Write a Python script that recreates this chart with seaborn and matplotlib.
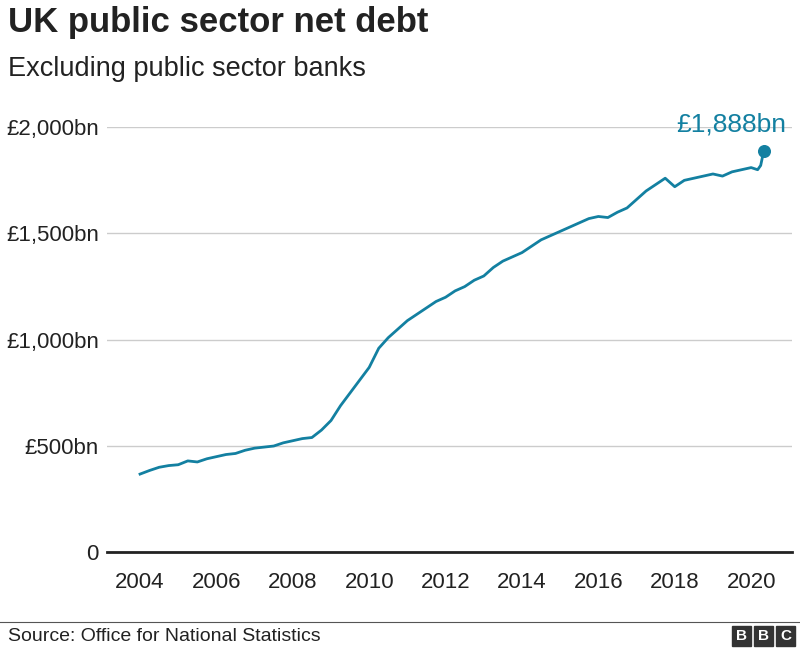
import matplotlib
matplotlib.use("Agg")
import matplotlib.pyplot as plt
import seaborn as sns
import pandas as pd
from matplotlib.patches import Rectangle

years = [2004.0,2004.25,2004.5,2004.75,2005.0,2005.25,2005.5,2005.75,2006.0,2006.25,2006.5,2006.75,
         2007.0,2007.25,2007.5,2007.75,2008.0,2008.25,2008.5,2008.75,2009.0,2009.25,2009.5,2009.75,
         2010.0,2010.25,2010.5,2010.75,2011.0,2011.25,2011.5,2011.75,2012.0,2012.25,2012.5,2012.75,
         2013.0,2013.25,2013.5,2013.75,2014.0,2014.25,2014.5,2014.75,2015.0,2015.25,2015.5,2015.75,
         2016.0,2016.25,2016.5,2016.75,2017.0,2017.25,2017.5,2017.75,2018.0,2018.25,2018.5,2018.75,
         2019.0,2019.25,2019.5,2019.75,2020.0,2020.17,2020.25,2020.33]
debt = [368,385,400,408,412,430,425,440,450,460,465,480,490,495,500,515,525,535,540,575,620,690,750,810,
        870,960,1010,1050,1090,1120,1150,1180,1200,1230,1250,1280,1300,1340,1370,1390,1410,1440,1470,1490,
        1510,1530,1550,1570,1580,1575,1600,1620,1660,1700,1730,1760,1720,1750,1760,1770,1780,1770,1790,1800,
        1810,1800,1820,1888]
yticks = [0, 500, 1000, 1500, 2000]
ylabels = ["0", "£500bn", "£1,000bn", "£1,500bn", "£2,000bn"]
xticks = [2004, 2006, 2008, 2010, 2012, 2014, 2016, 2018, 2020]

color = "#1380A1"
df = pd.DataFrame({"year": years, "debt": debt})
plt.rcParams["font.family"] = "Liberation Sans"
fig = plt.figure(figsize=(8, 6.49), dpi=100)
ax = fig.add_axes([0.134, 0.149, 0.856, 0.655])
sns.lineplot(data=df, x="year", y="debt", color=color, lw=2, ax=ax)
ax.scatter([years[-1]], [debt[-1]], color=color, s=70, zorder=5, clip_on=False)
ax.text(years[-1] + 0.6, debt[-1] + 70, "£1,888bn", color=color, fontsize=19, ha="right", va="bottom")
ax.set_xlim(2003.14, 2021.07)
ax.set_ylim(0, 2000)
ax.set_yticks(yticks, ylabels)
ax.set_xticks(xticks, [str(x) for x in xticks])
ax.tick_params(length=0, labelsize=16, colors="#222222")
ax.tick_params(axis="y", pad=6)
ax.tick_params(axis="x", pad=14)
ax.grid(axis="y", color="#cccccc", lw=1)
ax.set_axisbelow(True)
for s in ["top", "right", "left"]:
    ax.spines[s].set_visible(False)
ax.spines["bottom"].set_color("#222222")
ax.spines["bottom"].set_linewidth(2)
ax.set_xlabel(""); ax.set_ylabel("")
for lab in ax.get_yticklabels():
    lab.set_ha("right")

fig.text(0.01, 0.965, "UK public sector net debt", fontsize=25, fontweight="bold", color="#222222", va="center")
fig.text(0.01, 0.893, "Excluding public sector banks", fontsize=19.5, color="#222222", va="center")
fig.add_artist(plt.Line2D([0, 1], [0.042, 0.042], color="#555555", lw=0.8, transform=fig.transFigure))
fig.text(0.01, 0.019, "Source: Office for National Statistics", fontsize=14, color="#222222", va="center")
for i, ch in enumerate("BBC"):
    x0 = 0.915 + i * 0.0275
    fig.add_artist(Rectangle((x0, 0.005), 0.024, 0.03, color="#333333", transform=fig.transFigure))
    fig.text(x0 + 0.012, 0.02, ch, color="white", fontsize=11, fontweight="bold", ha="center", va="center")
fig.savefig("out.png", dpi=100)
